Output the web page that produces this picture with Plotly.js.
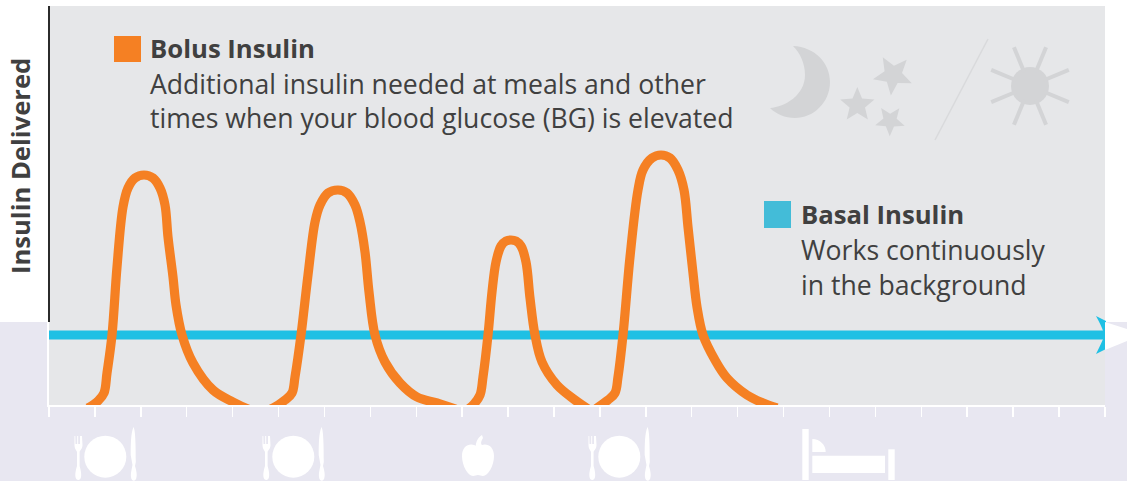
<!DOCTYPE html>
<html><head><meta charset="utf-8">
<script src="https://cdn.plot.ly/plotly-3.0.1.min.js"></script>
<style>html,body{margin:0;padding:0;background:#fff;overflow:hidden}</style>
</head><body><div id="chart"></div>
<script>
// Illustrative time axis (arbitrary units), one tick per slot
const timeMax = 1056, tickStep = 45.91, doseMax = 399;
const basalTime = [0, 1056];
const basalDose = [70, 70];
const bolusTime = [39,49,55,58,63,68,74,79,86,95,104,111,116,119,124,127,133,144,164,184,199,211,
  224,236,243,246,252,259,266,271,279,289,298,306,311,316,320,326,336,351,368,388,406,412,
  418,425,431,434,439,443,447,452,457,462,467,472,477,481,486,493,508,526,539,543,
  548,559,566,569,574,581,589,594,603,612,621,629,635,639,644,648,654,666,678,698,714,728];
const bolusDose = [-3,4,12,32,70,138,198,217,227,230,227,217,200,168,128,100,70,42,15,3,-4,-8,
  -3,5,12,28,70,130,183,200,212,215,212,200,183,153,113,70,43,22,8,2,-4,-8,
  -5,1,10,28,70,113,143,159,164,165,164,159,143,107,70,43,20,5,-4,-8,
  -3,5,12,28,70,148,215,235,247,250,247,235,215,178,132,98,70,45,27,10,2,-3];
const eventLabels = ['Bolus Insulin','Basal Insulin'];
const bolusLines = ['Additional insulin needed at meals and other','times when your blood glucose (BG) is elevated'];
const basalLines = ['Works continuously','in the background'];
const axisLabel = 'Insulin Delivered';

const cOrange='#f58023', cBlue='#1fc0e4', cIcon='#d3d4d6', cText='#404040', cGray='#e6e7e9', cLav='#e8e7f1';
const PX0=49, PY0=405, PW=1056, PH=399;
const px=x=>(x-PX0)/PW, py=y=>(PY0-y)/PH;
const P=(pts,close=true)=>{ // points: page position -> paper fraction path
  return pts.map((p,i)=>(i?'L':'M')+px(p[0]).toFixed(5)+','+py(p[1]).toFixed(5)).join(' ')+(close?' Z':'');
};
const C=s=>s.replace(/(-?[\d.]+),(-?[\d.]+)/g,(m,a,b)=>px(+a).toFixed(5)+','+py(+b).toFixed(5));
const path=(d,fill,layer='below')=>({type:'path',xref:'paper',yref:'paper',path:d,fillcolor:fill,line:{width:0},layer});
const rect=(x0,y0,x1,y1,fill,layer='below')=>({type:'rect',xref:'paper',yref:'paper',x0:px(x0),x1:px(x1),y0:py(y1),y1:py(y0),fillcolor:fill,line:{width:0},layer});
const circ=(cx,cy,r,fill)=>({type:'circle',xref:'paper',yref:'paper',x0:px(cx-r),x1:px(cx+r),y0:py(cy+r),y1:py(cy-r),fillcolor:fill,line:{width:0},layer:'below'});
const seg=(x0,y0,x1,y1,color,width,layer='below')=>({type:'line',xref:'paper',yref:'paper',x0:px(x0),x1:px(x1),y0:py(y0),y1:py(y1),line:{color,width},layer});
function star(cx,cy,R,rot){const pts=[];for(let i=0;i<10;i++){const a=(rot+i*36)*Math.PI/180,r=i%2?R*0.45:R;pts.push([cx+r*Math.cos(a),cy+r*Math.sin(a)]);}return path(P(pts),cIcon);}
function setting(dx){const W='#ffffff';return [
  circ(105.3+dx,456.7,21,W),
  // fork
  path(C(`M${74.5+dx},436 L${75.3+dx},436 L${75.5+dx},444 L${77.2+dx},444 L${77.2+dx},436 L${78+dx},436 L${78.2+dx},436 L${78.2+dx},444 L${80+dx},444 L${80+dx},436 L${82+dx},436 L${82.5+dx},445 C${82.5+dx},449 ${80+dx},450 ${79.6+dx},452 L${79.6+dx},466 C${81+dx},471 ${81.5+dx},474 ${81+dx},477 C${80.5+dx},481 ${76+dx},481 ${75.5+dx},477 C${75+dx},474 ${75.5+dx},471 ${77+dx},466 L${77+dx},452 C${76.5+dx},450 ${74.5+dx},449 ${74.5+dx},445 Z`),W),
  // knife
  path(C(`M${133.5+dx},427 C${135+dx},430 ${135.8+dx},438 ${135.8+dx},462 L${135+dx},466 C${136.5+dx},471 ${137+dx},474 ${136.5+dx},477 C${136+dx},482 ${131.5+dx},482 ${131+dx},477 C${130.5+dx},474 ${131.5+dx},470 ${132.5+dx},465 L${130.7+dx},455 C${130.7+dx},445 ${130.8+dx},433 ${133.5+dx},427 Z`),W)
];}
const shapes=[
  rect(0,322,1127,481,cLav),
  rect(49,6,1105,405,cGray),
  path(C('M793,46 C815,47 830,63 830,82 C830,103 813,118 795,118 C785,118 776,114 770,108 C785,107 805,95 805,75 C805,63 800,53 793,46 Z'),cIcon),
  star(893,75,20.5,-48), star(857.3,105,18,-90), star(890,120.7,15.5,-53),
  seg(988,39,935,140,'#d9dadc',1.5),
  circ(1030,86,19,cIcon),
  ...[22.5,67.5,112.5,157.5,202.5,247.5,292.5,337.5].map(a=>{const r=a*Math.PI/180;return seg(1030+15*Math.cos(r),86+15*Math.sin(r),1030+42*Math.cos(r),86+42*Math.sin(r),cIcon,4);}),
  ...setting(0),...setting(188),...setting(514),
  // apple
  path(C('M478,447 C484,442 494,444 494,456 C494,466 488,476 483,476 C481,476 480,475 478,475 C476,475 475,476 473,476 C468,476 462,466 462,456 C462,444 472,442 478,447 Z'),'#ffffff'),
  path(C('M482,435 C477,438 475,444 476,449 C479,449 484,449 486,445 C482,447 479,444 483,438 Z'),'#ffffff'),
  // bed
  rect(802.3,429,808.7,480,'#ffffff'),
  rect(812.3,455.7,885,473,'#ffffff'),
  rect(888.3,449.3,894.7,480,'#ffffff'),
  path(C('M812.3,439 C820,439 825.7,445 825.7,452 L812.3,452 Z'),'#ffffff'),
  // arrow head and white wedge
  path(C('M1096,316 L1106,321 L1106,349 L1096,354 Q1102,342 1103,339 L1103,331 Q1102,327 1096,316 Z'),cBlue,'above'),
  path(P([[1105,322],[1127,329],[1127,341],[1105,350]]),'#ffffff','above'),
  // y axis upper part
  seg(49,6,49,322,'#2b2b2b',2,'above'),
  // legend swatches
  rect(114,36,141,62,cOrange), rect(764,201,791,228,'#43bcd8')
];
const ann=(x,y,text,size,bold,extra={})=>Object.assign({xref:'paper',yref:'paper',x:px(x),y:py(y),xanchor:'left',yanchor:'middle',showarrow:false,
  text:bold?'<b>'+text+'</b>':text,font:{family:'"Open Sans",sans-serif',size,color:cText}},extra);
const annotations=[
  ann(148,48,eventLabels[0],25.7,true),
  ann(148,84,bolusLines[0],26.6,false),
  ann(148,118,bolusLines[1],26.6,false),
  ann(799,214,eventLabels[1],25.7,true),
  ann(799,250,basalLines[0],26.6,false),
  ann(799,285,basalLines[1],26.6,false),
  ann(20,166,axisLabel,25.6,true,{textangle:-90,xanchor:'center'})
];
const traces=[
  {x:basalTime,y:basalDose,name:'Basal Insulin',mode:'lines',line:{color:cBlue,width:9},hoverinfo:'skip'},
  {x:bolusTime,y:bolusDose,name:'Bolus Insulin',mode:'lines',line:{color:cOrange,width:9.2,shape:'spline',smoothing:1},hoverinfo:'skip'}
];
Plotly.newPlot('chart',traces,{
  width:1127,height:481,autosize:false,showlegend:false,
  margin:{l:49,r:22,t:6,b:76,pad:0},
  paper_bgcolor:'#ffffff',plot_bgcolor:'rgba(0,0,0,0)',
  xaxis:{range:[0,timeMax],tick0:0,dtick:tickStep,ticks:'outside',ticklen:10,tickwidth:1.5,tickcolor:'#ffffff',showticklabels:false,showgrid:false,zeroline:false,showline:true,linecolor:'#ffffff',linewidth:1.5},
  yaxis:{range:[0,doseMax],showticklabels:false,ticks:'',showgrid:false,zeroline:false,showline:true,linecolor:'#ffffff',linewidth:2},
  shapes,annotations
},{displayModeBar:false,staticPlot:true});
</script></body></html>
